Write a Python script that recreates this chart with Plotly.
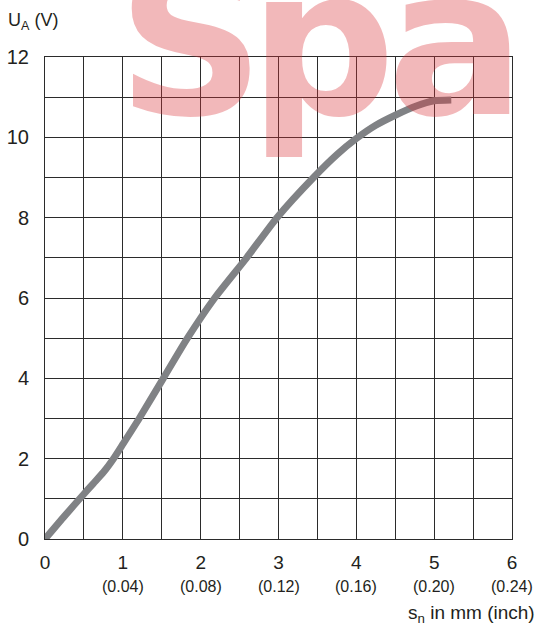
import plotly.graph_objects as go

# Curve data: distance s_n (mm) vs output voltage U_A (V)
s_mm = [0, 0.25, 0.5, 0.62, 0.75, 0.88, 1.0, 1.21, 1.52, 1.83, 2.18, 2.59, 2.98, 3.45, 3.75, 4.0, 4.25, 4.5, 4.77, 5.0, 5.22]
u_volt = [0, 0.57, 1.12, 1.38, 1.66, 2.0, 2.36, 3.0, 4.0, 5.0, 6.0, 7.0, 8.0, 9.0, 9.57, 9.97, 10.3, 10.55, 10.78, 10.91, 10.93]

# Axis ticks
x_ticks_mm = [0, 1, 2, 3, 4, 5, 6]
x_ticks_inch = ["", "(0.04)", "(0.08)", "(0.12)", "(0.16)", "(0.20)", "(0.24)"]
x_grid = [i * 0.5 for i in range(13)]
y_ticks = list(range(13))
y_labels = [str(v) if v % 2 == 0 else "" for v in y_ticks]

# Watermark letters
wm_letters = ["S", "p", "a", "r"]
wm_px = [115, 247, 385, 522]

W, H = 538, 625
ML, MR, MT, MB = 45, 26, 57, 86
PW, PH = W - ML - MR, H - MT - MB

TXT = "#231f20"
GRID = "#2b2b2b"
FONT = "Liberation Sans, Arial, sans-serif"

fig = go.Figure()
fig.add_trace(go.Scatter(
    x=s_mm, y=u_volt, mode="lines",
    line=dict(color="#808285", width=7, shape="spline", smoothing=0.6),
    hoverinfo="skip", showlegend=False,
))

x_text = [str(int(v)) if v == int(v) else "" for v in x_grid]

fig.update_layout(
    width=W, height=H,
    margin=dict(l=ML, r=MR, t=MT, b=MB, autoexpand=False),
    paper_bgcolor="white", plot_bgcolor="white",
    font=dict(family=FONT, color=TXT, size=18),
    showlegend=False,
    xaxis=dict(
        range=[0, 6], tickvals=x_grid, ticktext=x_text, automargin=False,
        showgrid=True, gridcolor=GRID, gridwidth=1,
        zeroline=False, showline=True, linecolor=GRID, linewidth=1, mirror=True,
        ticks="", ticklabelstandoff=6,
        tickfont=dict(size=19, color=TXT, family=FONT),
        fixedrange=True,
    ),
    yaxis=dict(
        range=[0, 12], tickvals=y_ticks, ticktext=y_labels, automargin=False,
        showgrid=True, gridcolor=GRID, gridwidth=1,
        zeroline=False, showline=True, linecolor=GRID, linewidth=1, mirror=True,
        ticks="", ticklabelstandoff=11,
        tickfont=dict(size=20, color=TXT, family=FONT),
        fixedrange=True,
    ),
)

annotations = []
for xv, lab in zip(x_ticks_mm, x_ticks_inch):
    if lab:
        annotations.append(dict(
            x=xv, xref="x", y=0, yref="paper", yanchor="middle", xanchor="center",
            yshift=-47, text=lab, showarrow=False,
            font=dict(size=16, color=TXT, family=FONT),
        ))

annotations.append(dict(
    x=1, xref="paper", xanchor="right", xshift=25,
    y=0, yref="paper", yanchor="middle", yshift=-75,
    text="s<sub>n</sub> in mm (inch)", showarrow=False,
    font=dict(size=19, color=TXT, family=FONT),
))
annotations.append(dict(
    x=0, xref="paper", xanchor="left", xshift=7 - ML, borderpad=0,
    y=1, yref="paper", yanchor="middle", yshift=MT - 21,
    text="U<sub>A</sub> (V)", showarrow=False,
    font=dict(size=18, color=TXT, family=FONT),
))

# watermark
for letter, px in zip(wm_letters, wm_px):
    annotations.append(dict(
        x=(px - ML) / PW, xref="paper", xanchor="left",
        y=(MT + PH - 43) / PH, yref="paper", yanchor="middle",
        text="<b>%s</b>" % letter, showarrow=False,
        font=dict(size=205, color="rgba(218,52,57,0.35)", family="DejaVu Sans"),
    ))

fig.update_layout(annotations=annotations)

fig.write_html(
    "out.html",
    config={"displayModeBar": False},
    post_script="document.body.style.margin='0';document.body.style.overflow='hidden';",
)
